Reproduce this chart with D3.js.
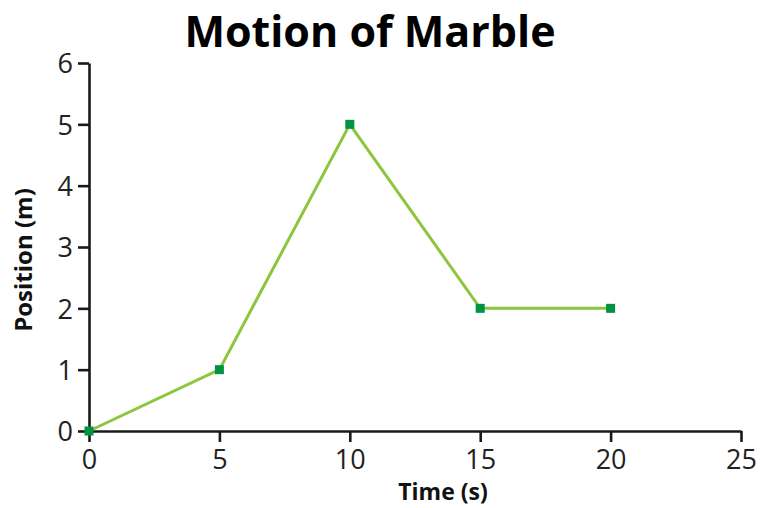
<!DOCTYPE html>
<html><head><meta charset="utf-8">
<script src="https://cdn.jsdelivr.net/npm/d3@7"></script>
<style>body{margin:0;background:#fff}</style>
</head><body>
<svg id="c" width="762" height="508"></svg>
<script>
const times = [0, 5, 10, 15, 20];
const positions = [0, 1, 5, 2, 2];
const xTicks = [0, 5, 10, 15, 20, 25];
const yTicks = [0, 1, 2, 3, 4, 5, 6];
const title = "Motion of Marble";
const xLabel = "Time (s)";
const yLabel = "Position (m)";

const svg = d3.select("#c");
const x = d3.scaleLinear().domain([0, 25]).range([89, 741]);
const y = d3.scaleLinear().domain([0, 6]).range([431, 63]);
const font = "'Open Sans', sans-serif";

const xa = svg.append("g").attr("transform", "translate(0,431)")
  .call(d3.axisBottom(x).tickValues(xTicks).tickFormat(d3.format("d")).tickSize(11).tickSizeOuter(0).tickPadding(8));
const ya = svg.append("g").attr("transform", "translate(89,0)")
  .call(d3.axisLeft(y).tickValues(yTicks).tickFormat(d3.format("d")).tickSize(11).tickSizeOuter(0).tickPadding(5));
[xa, ya].forEach(a => {
  a.select(".domain").attr("stroke", "#1a1a1a").attr("stroke-width", 2.6);
  a.selectAll(".tick line").attr("stroke", "#1a1a1a").attr("stroke-width", 2.6);
  a.selectAll(".tick text").attr("fill", "#222").style("font-family", font).style("font-size", "27px");
});
ya.selectAll(".tick text").attr("dy", "0.36em");

const pts = times.map((t, i) => [t, positions[i]]);
svg.append("path").datum(pts)
  .attr("fill", "none").attr("stroke", "#8cc63f").attr("stroke-width", 3)
  .attr("d", d3.line().x(d => x(d[0])).y(d => y(d[1])));
svg.selectAll("rect.m").data(pts).enter().append("rect")
  .attr("x", d => x(d[0]) - 4.5).attr("y", d => y(d[1]) - 4.5)
  .attr("width", 9).attr("height", 9).attr("fill", "#009245");

svg.append("text").attr("x", 370).attr("y", 46.5).attr("text-anchor", "middle")
  .style("font-family", font).style("font-weight", 700).style("font-size", "43px")
  .attr("fill", "#000").text(title);
svg.append("text").attr("x", 443).attr("y", 500).attr("text-anchor", "middle")
  .style("font-family", font).style("font-weight", 700).style("font-size", "23px")
  .attr("fill", "#111").text(xLabel);
svg.append("text").attr("transform", "translate(32,260) rotate(-90)").attr("text-anchor", "middle")
  .style("font-family", font).style("font-weight", 700).style("font-size", "24px")
  .attr("fill", "#111").text(yLabel);
</script>
</body></html>
